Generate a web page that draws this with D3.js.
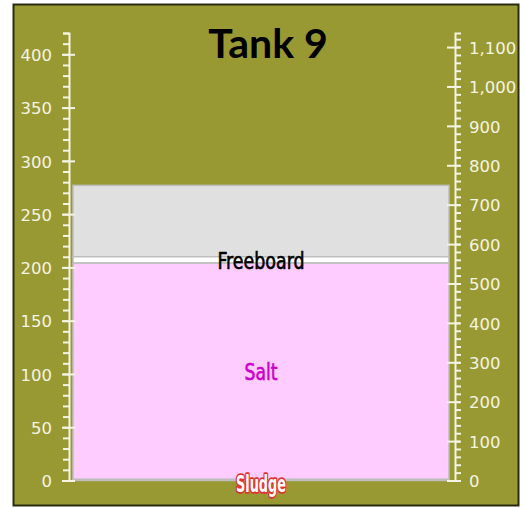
<!DOCTYPE html>
<html><head><meta charset="utf-8">
<script src="https://cdn.jsdelivr.net/npm/d3@7"></script>
<style>
html,body{margin:0;padding:0;background:#fff;}
svg{display:block;}
</style></head>
<body>
<script>
// ---- data ----
const title = "Tank 9";
const layerNames = ["Sludge", "Salt", "Supernate", "Freeboard"];
const layerValues = [1, 203, 6, 67];           // inches
const layerFills = ["#d8d8d8", "#ffccff", "#ffffff", "#e0e0e0"];
const labelNames = ["Sludge", "Salt", "Freeboard"];
const labelLayer = [0, 1, 2];
const leftDomain = [0, 420];                   // inches
const galPerInch = 2.704;                      // kgal per inch
const leftTicks = [0, 50, 100, 150, 200, 250, 300, 350, 400];
const rightTicks = [0, 100, 200, 300, 400, 500, 600, 700, 800, 900, 1000, 1100];

const W = 526, H = 508;
const svg = d3.select("body").append("svg").attr("width", W).attr("height", H);

svg.append("rect").attr("x", 13.5).attr("y", 4.5).attr("width", 505).attr("height", 501)
  .attr("fill", "#999933").attr("stroke", "#2a2a10").attr("stroke-width", 2);

const y = d3.scaleLinear().domain(leftDomain).range([480.5, 33]);
const yR = d3.scaleLinear().domain([0, leftDomain[1] * galPerInch]).range([480.5, 33]);
const x0 = 73, x1 = 449, axL = 69, axR = 455;

// stacked layers
let acc = 0;
const stacks = layerValues.map((v, i) => { const s = { name: layerNames[i], y0: acc, y1: acc + v, fill: layerFills[i] }; acc += v; return s; });

const g = svg.append("g");
g.selectAll("rect.layer").data(stacks.slice().reverse()).join("rect")
  .attr("class", "layer")
  .attr("x", x0).attr("width", x1 - x0)
  .attr("y", d => y(d.y1)).attr("height", d => y(d.y0) - y(d.y1))
  .attr("fill", d => d.fill).attr("stroke", "#bdbdbd").attr("stroke-width", 1.5);

// axes
const axColor = "#f4f4e4";
function styleAxis(sel) {
  sel.selectAll("path").attr("stroke", axColor).attr("stroke-width", 2);
  sel.selectAll("line").attr("stroke", axColor).attr("stroke-width", 2);
  sel.selectAll("text").attr("fill", axColor).attr("font-family", "DejaVu Sans").attr("font-size", 16.5);
}
// left minor
const gLm = svg.append("g").attr("transform", `translate(${axL},0)`)
  .call(d3.axisLeft(y).tickValues(d3.range(0, 421, 10)).tickSize(6).tickSizeOuter(6).tickFormat(""));
styleAxis(gLm);
const gL = svg.append("g").attr("transform", `translate(${axL},0)`)
  .call(d3.axisLeft(y).tickValues(leftTicks).tickSize(7).tickSizeOuter(0).tickPadding(10).tickFormat(d3.format("d")));
styleAxis(gL);
gL.select("path").remove();
gL.selectAll(".tick line").attr("x1", 6);
gL.selectAll(".tick text").attr("dy", "0.38em");

// right minor
const gRm = svg.append("g").attr("transform", `translate(${axR},0)`)
  .call(d3.axisRight(yR).tickValues(d3.range(0, 1136, 20)).tickSize(6).tickSizeOuter(6).tickFormat(""));
styleAxis(gRm);
const gR = svg.append("g").attr("transform", `translate(${axR},0)`)
  .call(d3.axisRight(yR).tickValues(rightTicks).tickSize(5).tickSizeOuter(0).tickPadding(9).tickFormat(d3.format(",")));
styleAxis(gR);
gR.select("path").remove();
gR.selectAll(".tick line").attr("x1", -8);
gR.selectAll(".tick text").attr("dy", "0.38em");

// title
svg.append("text").attr("x", 268).attr("y", 58).attr("text-anchor", "middle")
  .attr("font-family", "Lato").attr("font-weight", "bold").attr("font-size", 41)
  .attr("fill", "#000").text(title);

// labels
const cx = (x0 + x1) / 2;
const labelWidths = { Sludge: 50, Salt: 33, Freeboard: 87 };
const lab = svg.append("g");
labelNames.forEach((n, i) => {
  const s = stacks[labelLayer[i]];
  const t = lab.append("text").attr("x", cx).attr("y", y((s.y0 + s.y1) / 2))
    .attr("dy", n === "Sludge" ? 12 : 9).attr("text-anchor", "middle")
    .attr("font-family", "DejaVu Sans Condensed").attr("font-size", 22.5)
    .attr("textLength", labelWidths[n]).attr("lengthAdjust", "spacingAndGlyphs")
    .text(n);
  if (n === "Sludge") {
    t.attr("fill", "#fff").attr("stroke", "#e03030").attr("stroke-width", 3.5)
     .attr("font-weight", "bold")
     .attr("paint-order", "stroke").attr("stroke-linejoin", "round");
  } else if (n === "Salt") {
    t.attr("fill", "#cc00cc").attr("stroke", "#cc00cc").attr("stroke-width", 0.6);
  } else {
    t.attr("fill", "#000").attr("stroke", "#000").attr("stroke-width", 0.6);
  }
});
</script>
</body></html>
